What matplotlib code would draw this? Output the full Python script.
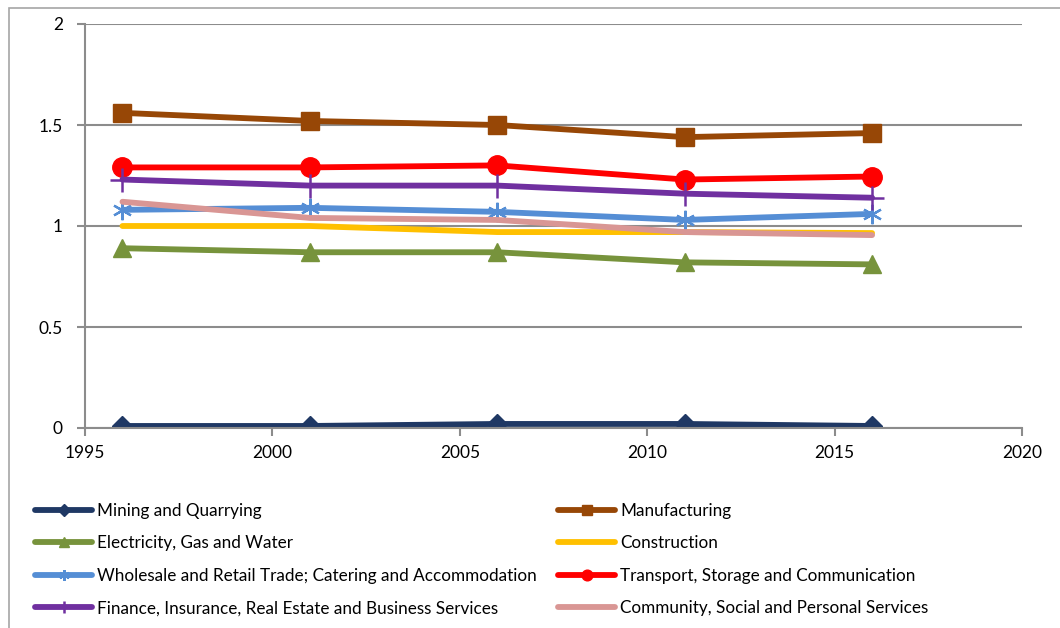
import numpy as np
import matplotlib
matplotlib.use("Agg")
import matplotlib.pyplot as plt
from matplotlib.patches import Rectangle

plt.rcParams['font.family'] = ['Lato', 'DejaVu Sans']

years = [1996, 2001, 2006, 2011, 2016]

mining = [0.01, 0.01, 0.02, 0.02, 0.01]
manufacturing = [1.56, 1.52, 1.50, 1.44, 1.46]
electricity = [0.89, 0.87, 0.87, 0.82, 0.81]
construction = [1.00, 1.00, 0.97, 0.97, 0.965]
wholesale = [1.08, 1.09, 1.07, 1.03, 1.06]
transport = [1.29, 1.29, 1.30, 1.23, 1.245]
finance = [1.23, 1.20, 1.20, 1.16, 1.14]
community = [1.12, 1.04, 1.03, 0.97, 0.955]

labels = [
    "Mining and Quarrying",
    "Manufacturing",
    "Electricity, Gas and Water",
    "Construction",
    "Wholesale and Retail Trade; Catering and Accommodation",
    "Transport, Storage and Communication",
    "Finance, Insurance, Real Estate and Business Services",
    "Community, Social and Personal Services",
]

asterisk = (6, 2, 0)
styles = [
    dict(color='#1F3864', marker='D', ms=10.5),
    dict(color='#974706', marker='s', ms=13),
    dict(color='#77933C', marker='^', ms=13),
    dict(color='#FFC000', marker=None, ms=0),
    dict(color='#558ED5', marker=asterisk, ms=14, mew=1.6),
    dict(color='#FF0000', marker='o', ms=14),
    dict(color='#7030A0', marker='+', ms=17, mew=1.8),
    dict(color='#D99694', marker=None, ms=0),
]
series = [mining, manufacturing, electricity, construction,
          wholesale, transport, finance, community]

fig = plt.figure(figsize=(10.6, 6.28), dpi=100)
ax = fig.add_axes([85 / 1060, 1 - 428 / 628, (1022 - 85) / 1060, (428 - 24) / 628])

# outer chart border
fig.patches.append(Rectangle((9 / 1060, -0.1), 1.2, 1 - 8 / 628 + 0.1,
                             transform=fig.transFigure, fill=False,
                             edgecolor='#A6A6A6', linewidth=1.2))

handles = []
for vals, st in zip(series, styles):
    kw = dict(color=st['color'], linewidth=4.2, solid_capstyle='round')
    if st['marker'] is not None:
        kw.update(marker=st['marker'], markersize=st['ms'],
                  markeredgewidth=st.get('mew', 1.0),
                  markerfacecolor=st['color'], markeredgecolor=st['color'])
    line, = ax.plot(years, vals, **kw)
    handles.append(line)

ax.set_xlim(1995, 2020)
ax.set_ylim(0, 2)
ax.set_xticks([1995, 2000, 2005, 2010, 2015, 2020])
ax.set_yticks([0, 0.5, 1, 1.5, 2])
ax.set_yticklabels(['0', '0.5', '1', '1.5', '2'])
ax.yaxis.grid(True, color='#8C8C8C', linewidth=1.5)
ax.set_axisbelow(True)
for s in ['top', 'right']:
    ax.spines[s].set_visible(False)
for s in ['left', 'bottom']:
    ax.spines[s].set_color('#8C8C8C')
    ax.spines[s].set_linewidth(1.5)
ax.tick_params(axis='both', colors='#8C8C8C', length=6, width=1.5,
               labelsize=12.5, labelcolor='black')
ax.tick_params(axis='x', pad=6)
ax.tick_params(axis='y', pad=10)

# legend in two columns placed under the axes
leg_kw = dict(frameon=False, fontsize=12.3, handlelength=3.35, handletextpad=0.3,
              labelspacing=0.96, markerscale=0.55, borderpad=0, borderaxespad=0,
              loc='upper left')
left_idx = [0, 2, 4, 6]
right_idx = [1, 3, 5, 7]
fig.legend([handles[i] for i in left_idx], [labels[i] for i in left_idx],
           bbox_to_anchor=(35 / 1060, 1 - 503 / 628), **leg_kw)
fig.legend([handles[i] for i in right_idx], [labels[i] for i in right_idx],
           bbox_to_anchor=(558 / 1060, 1 - 503 / 628), **leg_kw)

fig.savefig('out.png', dpi=100)
